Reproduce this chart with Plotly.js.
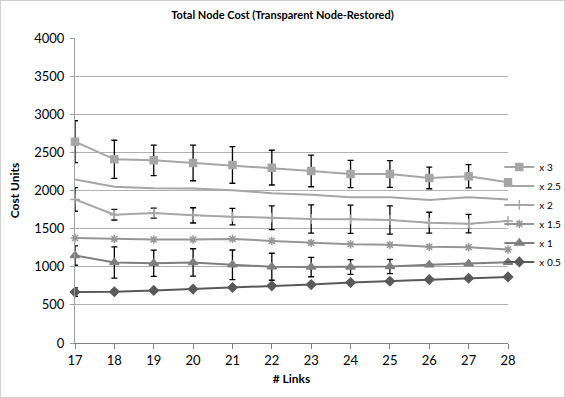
<!DOCTYPE html>
<html><head><meta charset="utf-8">
<script src="https://cdn.plot.ly/plotly-3.0.1.min.js"></script>
<style>html,body{margin:0;padding:0;background:#fff}
#chart{width:565px;height:398px;box-sizing:border-box;border:1px solid #d0d0d0}</style>
</head><body><div id="chart"></div>
<script>
const links = [17,18,19,20,21,22,23,24,25,26,27,28];
const x3 = [2640,2409,2396,2361,2335,2300,2257,2217,2217,2165,2187,2109];
const x3err = [275,250,200,233,240,228,208,178,176,142,152,0];
const x25 = [2143,2048,2030,2026,2004,1965,1943,1913,1913,1874,1913,1883];
const x2 = [1883,1683,1704,1674,1657,1643,1626,1622,1613,1578,1565,1600];
const x2err = [155,70,65,100,108,155,185,185,185,137,122,0];
const x15 = [1378,1365,1357,1357,1365,1339,1313,1296,1287,1261,1257,1226];
const x1 = [1147,1056,1047,1056,1026,1000,996,996,1004,1026,1039,1060];
const x1err = [127,205,172,180,194,177,127,97,93,15,0,0];
const x05 = [668,672,690,707,728,750,767,793,810,832,849,866];
const x05err = [56,0,0,0,0,0,0,0,0,0,0,0];
const names = ['x 3','x 2.5','x 2','x 1.5','x 1','x 0.5'];

function eb(arr){return arr?{type:'data',array:arr,visible:true,color:'#000',thickness:1.3,width:3}:undefined;}
function tr(name,y,err,color,sym,size){
  const t={x:links,y:y,name:name,type:'scatter',mode:sym?'lines+markers':'lines',
    line:{color:color,width:2},cliponaxis:false};
  if(sym) t.marker={symbol:sym,size:size,color:color,line:{color:color,width:1.5}};
  if(err) t.error_y=eb(err);
  return t;
}
const data=[
  tr(names[0],x3,x3err,'#a6a6a6','square',7),
  tr(names[1],x25,null,'#a6a6a6',null,0),
  tr(names[2],x2,x2err,'#a6a6a6','cross-thin-open',7),
  tr(names[3],x15,null,'#969696','asterisk-open',7),
  tr(names[4],x1,x1err,'#7f7f7f','triangle-up',8),
  tr(names[5],x05,x05err,'#595959','diamond',7)
];
const font='Lato, "Open Sans", sans-serif';
const layout={
  width:563,height:396,
  margin:{l:74,r:56,t:37,b:54,autoexpand:false},
  paper_bgcolor:'#fff',plot_bgcolor:'#fff',
  font:{family:font,color:'#000',size:12},
  title:{text:'<b>Total Node Cost (Transparent Node-Restored)</b>',font:{size:11,family:font},x:0.5,xanchor:'center',y:0.965,yanchor:'middle'},
  xaxis:{range:[17,28],tickvals:links,ticktext:links.map(String),showgrid:false,zeroline:false,
    showline:true,linecolor:'#808080',linewidth:1,ticks:'outside',ticklen:5,tickcolor:'#808080',
    tickfont:{size:13},title:{text:'<b># Links</b>',font:{size:12},standoff:8}},
  yaxis:{range:[0,4000],dtick:500,showgrid:true,gridcolor:'#b0b0b0',gridwidth:1,zeroline:false,
    showline:true,linecolor:'#a0a0a0',ticks:'outside',ticklen:4,tickcolor:'#a0a0a0',tickfont:{size:13},ticklabelstandoff:3,
    title:{text:'<b>Cost Units</b>',font:{size:12},standoff:12}},
  showlegend:true,
  legend:{x:0.98,xanchor:'left',y:0.625,yanchor:'top',font:{size:10},tracegroupgap:0,itemwidth:30,
    bgcolor:'rgba(0,0,0,0)'}
};
Plotly.newPlot('chart',data,layout,{displayModeBar:false,staticPlot:true});
</script></body></html>
